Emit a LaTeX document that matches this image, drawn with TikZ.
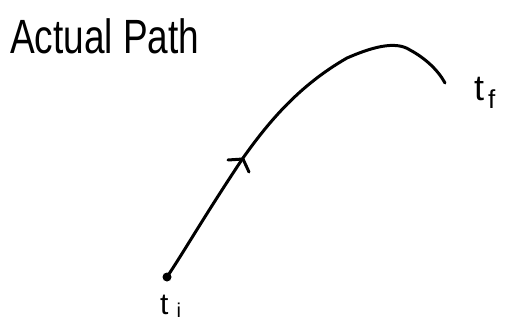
\documentclass[tikz,border=0pt]{standalone}
\usepackage{fontspec}
\setmainfont{Liberation Sans}
\tikzset{
  stroke/.style={line width=3pt, line cap=round, line join=round, black},
  lbl/.style={inner sep=0pt, anchor=base west}
}
\begin{document}
\begin{tikzpicture}[x=1pt,y=-1pt]
\useasboundingbox (0,0) rectangle (512,329);
\node[lbl, font=\fontsize{37}{37}\selectfont] (title) at (10,54) {\scalebox{1}[1.3]{Actual Path}};
\coordinate (start) at (167,277);
\coordinate (end) at (445,83);
\fill (start) circle (4.5);
\draw[stroke] (start) .. controls (185,250) and (205,215) .. (243,158)
  .. controls (270,120) and (300,85) .. (347,58)
  .. controls (370,48) and (395,40) .. (410,50)
  .. controls (425,58) and (438,70) .. (end);
\coordinate (arr) at (243,159);
\draw[stroke] (228,160) -- (arr) -- (249,172);
\node[lbl, font=\fontsize{30}{30}\selectfont] (ti) at (160,314) {t\hspace{8pt}\raisebox{-3pt}{\fontsize{20}{20}\selectfont i}};
\node[lbl, font=\fontsize{36}{36}\selectfont] (tf) at (474,101) {t\hspace{4pt}\raisebox{-8pt}{\fontsize{26}{26}\selectfont f}};
\end{tikzpicture}
\end{document}
